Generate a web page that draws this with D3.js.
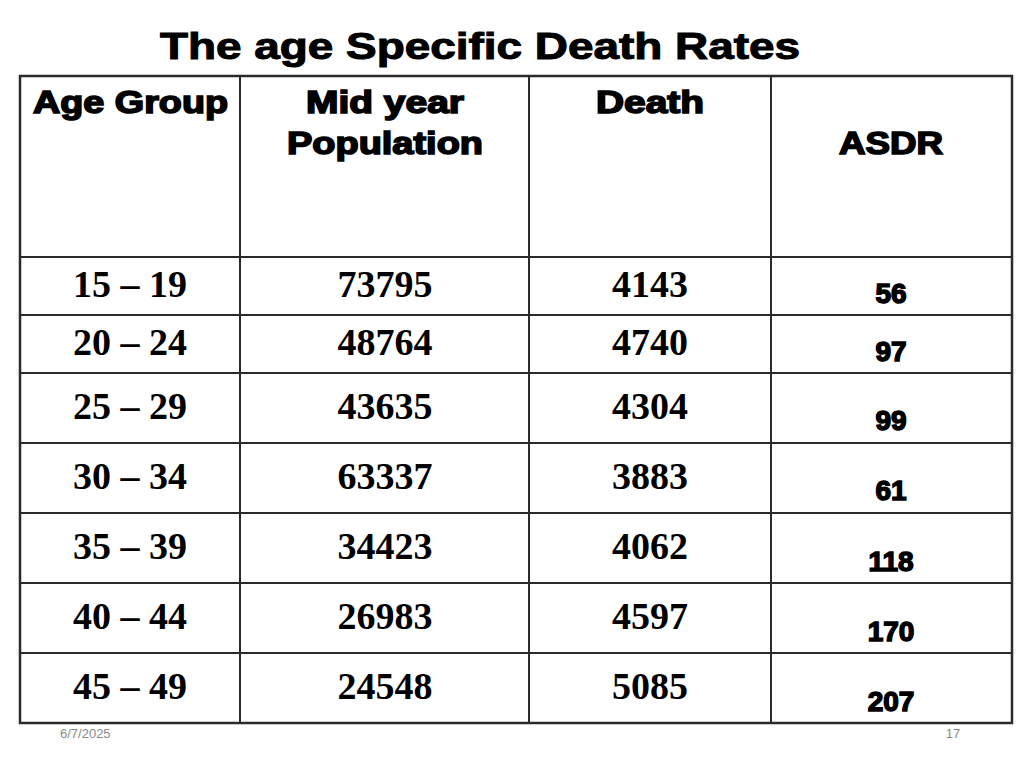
<!DOCTYPE html>
<html><head><meta charset="utf-8">
<script src="https://cdn.jsdelivr.net/npm/d3@7"></script>
<style>body{margin:0;background:#fff}</style>
</head><body><svg id="c" width="1024" height="768"></svg>
<script>
const ageGroups = ["15 – 19", "20 – 24", "25 – 29", "30 – 34", "35 – 39", "40 – 44", "45 – 49"];
const population = [73795, 48764, 43635, 63337, 34423, 26983, 24548];
const deaths = [4143, 4740, 4304, 3883, 4062, 4597, 5085];
const asdr = [56, 97, 99, 61, 118, 170, 207];

// layout
const colEdges = [20, 240, 529, 771, 1012];
const rowHeights = [58, 58, 70, 70, 70, 70, 70];
const headTop = 76, headBottom = 257;

const svg = d3.select("#c");
const sans = "'Liberation Sans', Arial, sans-serif";
const serif = "'Liberation Serif', 'Times New Roman', serif";

svg.append("text").attr("x", 160).attr("y", 59)
  .attr("font-family", sans).attr("font-weight", "bold").attr("font-size", 36)
  .attr("textLength", 640).attr("lengthAdjust", "spacingAndGlyphs")
  .attr("stroke", "#000").attr("stroke-width", 1).text("The age Specific Death Rates");

const rowEdges = [headBottom];
rowHeights.forEach(h => rowEdges.push(rowEdges[rowEdges.length - 1] + h));
const bottom = rowEdges[rowEdges.length - 1];

const lines = svg.append("g").attr("stroke", "#2a2a2a");
colEdges.slice(1, -1).forEach(x => lines.append("line").attr("x1", x).attr("x2", x).attr("y1", headTop).attr("y2", bottom).attr("stroke-width", 2));
rowEdges.slice(0, -1).forEach(y => lines.append("line").attr("x1", colEdges[0]).attr("x2", colEdges[4]).attr("y1", y).attr("y2", y).attr("stroke-width", 1.8));
lines.append("rect").attr("x", colEdges[0]).attr("y", headTop).attr("width", colEdges[4] - colEdges[0])
  .attr("height", bottom - headTop).attr("fill", "none").attr("stroke-width", 2.5);

const head = svg.append("g").attr("font-family", sans).attr("font-weight", "bold").attr("font-size", 31)
  .attr("stroke", "#000").attr("stroke-width", 1.6).attr("lengthAdjust", "spacingAndGlyphs");
const headers = [
  ["Age Group", 33, 113, "start", 195],
  ["Mid year", 385, 113, "middle", 158],
  ["Population", 385, 154, "middle", 196],
  ["Death", 650, 113, "middle", 108],
  ["ASDR", 891, 154, "middle", 104]
];
headers.forEach(([t, x, y, a, w]) => head.append("text").attr("x", x).attr("y", y)
  .attr("text-anchor", a).attr("textLength", w).attr("lengthAdjust", "spacingAndGlyphs").text(t));

const body = svg.append("g");
const cx = [130, 385, 650];
const numOff = [40, 40, 46, 46, 46, 46, 46];
const asdrOff = [46, 46, 57, 57, 58, 58, 58];
ageGroups.forEach((g, i) => {
  const top = rowEdges[i];
  [g, population[i], deaths[i]].forEach((v, j) => {
    body.append("text").attr("x", cx[j]).attr("y", top + numOff[i]).attr("text-anchor", "middle")
      .attr("font-family", serif).attr("font-weight", "bold").attr("font-size", 38).text(v);
  });
  body.append("text").attr("x", 891).attr("y", top + asdrOff[i]).attr("text-anchor", "middle")
    .attr("font-family", sans).attr("font-weight", "bold").attr("font-size", 28)
    .attr("stroke", "#000").attr("stroke-width", 1.5).text(asdr[i]);
});

svg.append("text").attr("x", 60).attr("y", 738).attr("font-family", sans).attr("font-size", 13).attr("fill", "#8a8a8a").text("6/7/2025");
svg.append("text").attr("x", 953).attr("y", 738).attr("text-anchor", "middle").attr("font-family", sans).attr("font-size", 13).attr("fill", "#8a8a8a").text("17");
</script></body></html>
